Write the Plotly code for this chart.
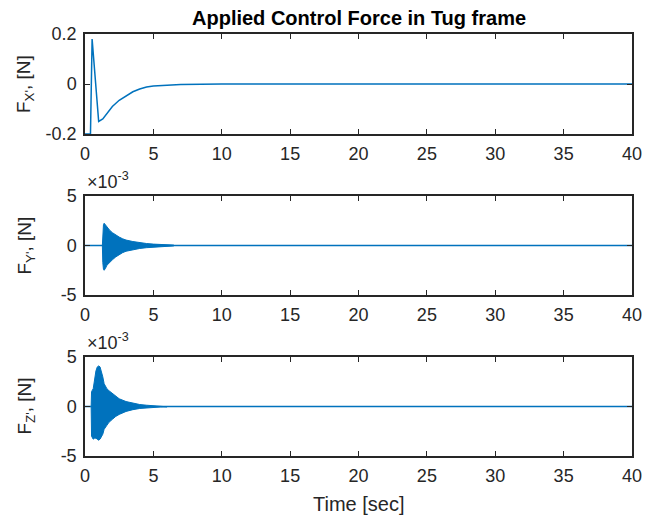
import plotly.graph_objects as go

# ---------------- data ----------------
# F_X' [N]
fx_t = [0, 0.35, 0.4, 0.52, 0.75, 1.0, 1.3, 1.6, 2.0, 2.5, 3.0, 3.5, 4.0, 4.5, 5.0, 6.0, 7.0, 10.0, 40.0]
fx_v = [-0.2, -0.2, -0.2, 0.18, 0.02, -0.15, -0.14, -0.12, -0.09, -0.065, -0.047, -0.031, -0.02, -0.012,
        -0.008, -0.004, -0.002, 0.0, 0.0]

# F_Y' [N] (units of 1e-3): steady line plus envelope of the dense oscillation
fy_line_t = [0, 40]
fy_line_v = [0, 0]
fy_env_t = [1.27, 1.3, 1.35, 1.4, 1.5, 1.6, 1.8, 2.0, 2.25, 2.5, 2.75, 3.0, 3.5, 4.0, 4.5, 5.0, 5.5, 6.0, 6.5]
fy_upper = [0, 1.5, 2.1, 2.25, 2.05, 1.85, 1.55, 1.3, 1.05, 0.85, 0.68, 0.55, 0.4, 0.28, 0.2, 0.14, 0.1, 0.07, 0.04]
fy_lower = [0, -1.7, -2.4, -2.5, -2.3, -2.0, -1.7, -1.45, -1.15, -0.9, -0.72, -0.58, -0.42, -0.3, -0.22, -0.15,
            -0.1, -0.07, -0.04]

# F_Z' [N] (units of 1e-3): steady line plus envelope of the dense oscillation
fz_line_t = [0, 40]
fz_line_v = [0, 0]
fz_env_t = [0.45, 0.48, 0.6, 0.7, 0.8, 0.9, 1.0, 1.1, 1.2, 1.3, 1.4, 1.5, 1.6, 1.75, 2.0, 2.25, 2.5, 3.0, 3.5,
            4.0, 4.5, 5.0, 5.5, 6.0]
fz_upper = [0, 1.5, 1.8, 2.8, 3.6, 4.0, 4.1, 4.0, 3.6, 3.0, 2.3, 1.95, 1.8, 1.6, 1.3, 1.0, 0.78, 0.5, 0.32,
            0.2, 0.13, 0.08, 0.05, 0.03]
fz_lower = [0, -3.0, -3.3, -3.2, -3.2, -3.3, -3.4, -3.3, -3.1, -2.8, -2.3, -2.1, -1.9, -1.6, -1.3, -1.0, -0.8,
            -0.5, -0.32, -0.2, -0.13, -0.08, -0.05, -0.03]

x_ticks = [0, 5, 10, 15, 20, 25, 30, 35, 40]
fx_ticks = [-0.2, 0, 0.2]
fyz_ticks = [-5, 0, 5]

title_text = "Applied Control Force in Tug frame"
x_label = "Time [sec]"
y_labels = ["F<sub>X'</sub>, [N]", "F<sub>Y'</sub>, [N]", "F<sub>Z'</sub>, [N]"]
exp_label = "×10<sup>-3</sup>"

# ---------------- figure ----------------
LINE = "#0072BD"
AX = "#262626"
FONT = "Liberation Sans, Arial, sans-serif"

fig = go.Figure()
fig.add_trace(go.Scatter(x=fx_t, y=fx_v, mode="lines", line=dict(color=LINE, width=1.5),
                         xaxis="x", yaxis="y", showlegend=False))

for (lt, lv, et, up, lo, xa, ya) in [
    (fy_line_t, fy_line_v, fy_env_t, fy_upper, fy_lower, "x2", "y2"),
    (fz_line_t, fz_line_v, fz_env_t, fz_upper, fz_lower, "x3", "y3"),
]:
    fig.add_trace(go.Scatter(x=lt, y=lv, mode="lines", line=dict(color=LINE, width=1.5),
                             xaxis=xa, yaxis=ya, showlegend=False))
    fig.add_trace(go.Scatter(x=list(et) + list(et[::-1]), y=list(up) + list(lo[::-1]),
                             mode="lines", fill="toself", fillcolor=LINE,
                             line=dict(color=LINE, width=1), xaxis=xa, yaxis=ya, showlegend=False))

W, H = 652, 517
ml, mr, mt, mb = 85, 10, 34, 61
ph = H - mt - mb


def ydom(top_px, bot_px):
    return [(H - mb - bot_px) / ph, (H - mb - top_px) / ph]


axis_common = dict(showline=True, linecolor=AX, linewidth=1.5, mirror="ticks", ticks="inside",
                   ticklen=5, tickwidth=1.2, tickcolor=AX, showgrid=False, zeroline=False,
                   tickfont=dict(family=FONT, size=18, color=AX))

xcommon = dict(axis_common, range=[0, 40], tickvals=x_ticks, ticktext=[str(v) for v in x_ticks],
               domain=[0, 1], ticklabelstandoff=3)

layout = dict(
    width=W, height=H, margin=dict(l=ml, r=mr, t=mt, b=mb),
    paper_bgcolor="white", plot_bgcolor="white",
    xaxis=dict(xcommon, anchor="y"),
    xaxis2=dict(xcommon, anchor="y2"),
    xaxis3=dict(xcommon, anchor="y3"),
    yaxis=dict(axis_common, range=[-0.2, 0.2], tickvals=fx_ticks, ticktext=["-0.2", "0", "0.2"],
               domain=ydom(34, 134), anchor="x", ticklabelstandoff=3),
    yaxis2=dict(axis_common, range=[-5, 5], tickvals=fyz_ticks, ticktext=["-5", "0", "5"],
                domain=ydom(196, 295), anchor="x2", ticklabelstandoff=3),
    yaxis3=dict(axis_common, range=[-5, 5], tickvals=fyz_ticks, ticktext=["-5", "0", "5"],
                domain=ydom(357, 456), anchor="x3", ticklabelstandoff=3),
)
fig.update_layout(**layout)

pw = W - ml - mr


def px_x(px):
    return (px - ml) / pw


def px_y(py):
    return (H - mb - py) / ph


annotations = [
    dict(text="<b>" + title_text + "</b>", x=0.5, y=px_y(18), xref="paper", yref="paper",
         xanchor="center", yanchor="middle", showarrow=False,
         font=dict(family=FONT, size=20, color="black")),
    dict(text=x_label, x=0.5, y=px_y(504), xref="paper", yref="paper",
         xanchor="center", yanchor="middle", showarrow=False,
         font=dict(family=FONT, size=20, color=AX)),
]
for lbl, (t, b) in zip(y_labels, [(34, 134), (196, 295), (357, 456)]):
    annotations.append(dict(text=lbl, x=px_x(24), y=px_y((t + b) / 2), xref="paper", yref="paper",
                            xanchor="center", yanchor="middle", textangle=-90, showarrow=False,
                            font=dict(family=FONT, size=19, color=AX)))
for top in [196, 357]:
    annotations.append(dict(text=exp_label, x=px_x(85), y=px_y(top - 2), xref="paper", yref="paper",
                            xanchor="left", yanchor="bottom", showarrow=False,
                            font=dict(family=FONT, size=18, color=AX)))
fig.update_layout(annotations=annotations)

fig.write_html("out.html")
